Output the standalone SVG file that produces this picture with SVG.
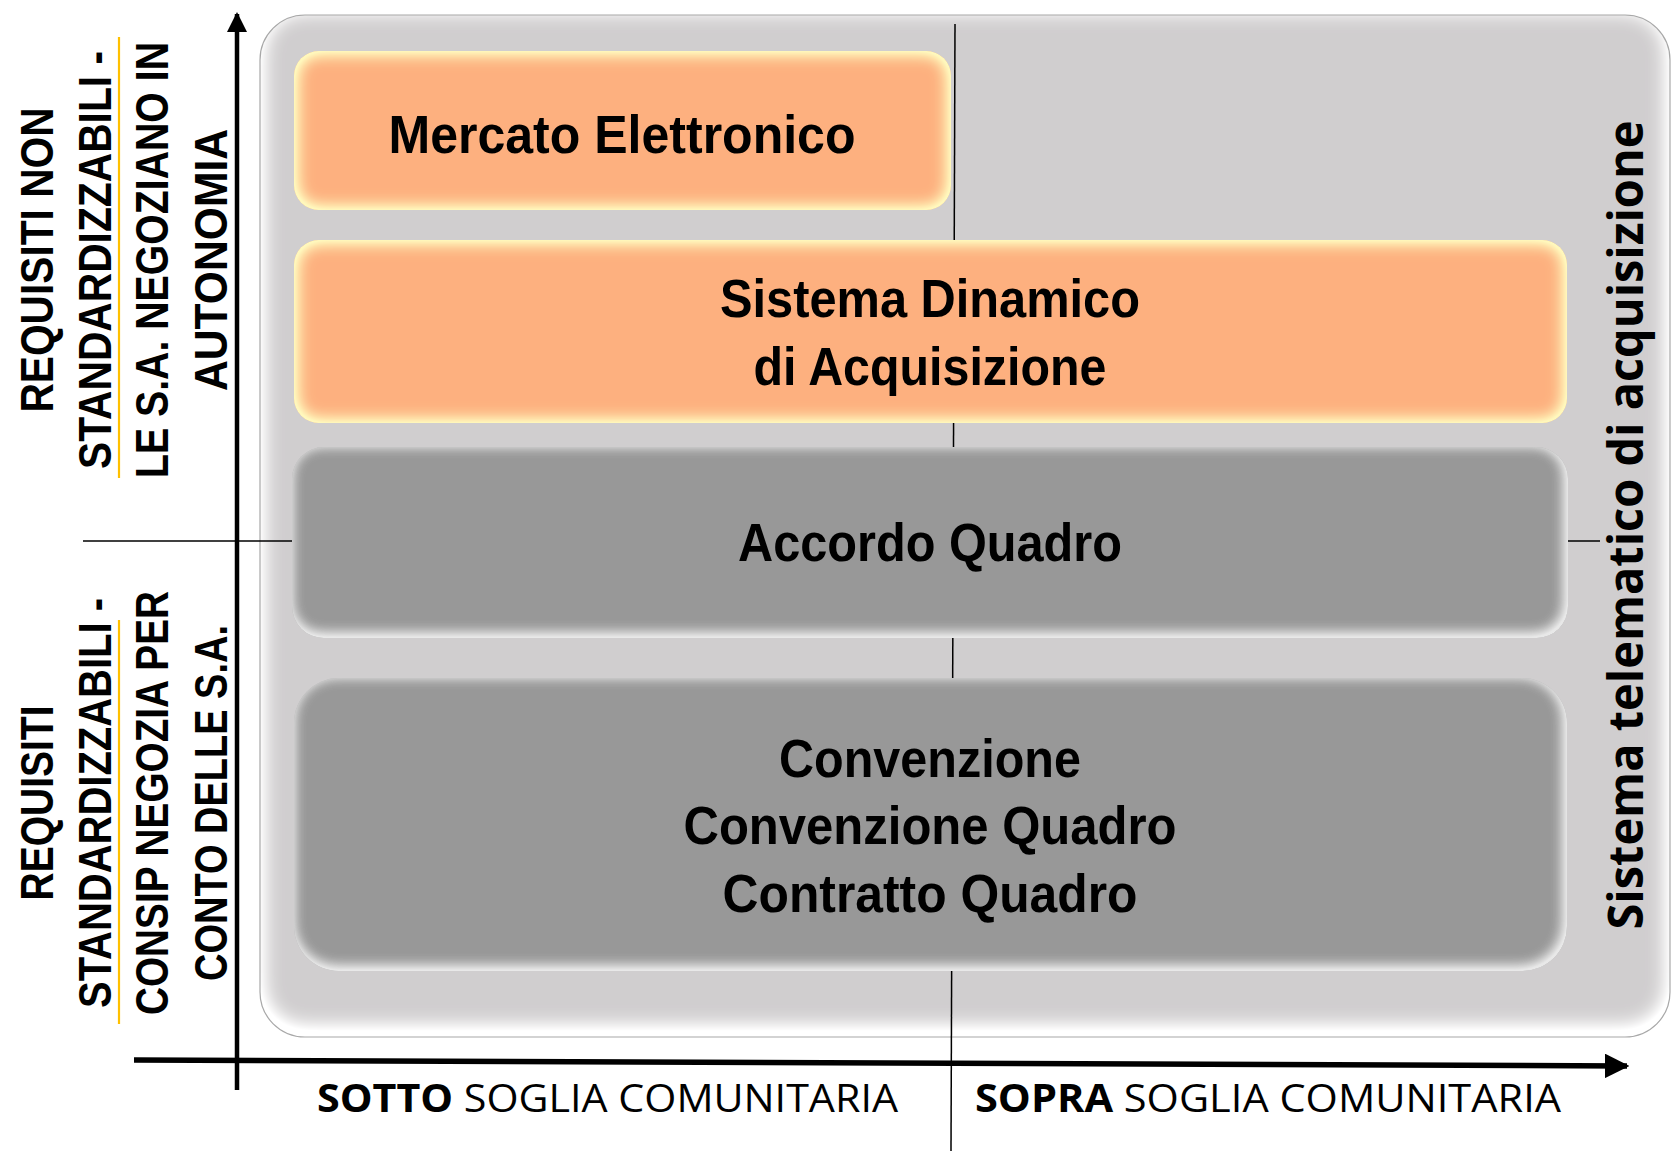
<svg xmlns="http://www.w3.org/2000/svg" width="1676" height="1151" viewBox="0 0 1676 1151">
<style>
.box { font-family: "Liberation Sans", Arial, sans-serif; font-weight: bold; font-size: 54px; fill: #000; text-anchor: middle; }
.side { font-family: "Liberation Sans", Arial, sans-serif; font-weight: bold; font-size: 46px; fill: #000; text-anchor: middle; }
.right { font-family: "Open Sans", "Liberation Sans", sans-serif; font-weight: bold; font-size: 49px; fill: #000; text-anchor: middle; }
.axis { font-family: "Open Sans", "Liberation Sans", sans-serif; font-size: 39px; fill: #000; }
.axis .b { font-weight: bold; }
.orange { fill: #FDB07F; filter: url(#glowOrange); }
.gray { fill: #989898; filter: url(#glowGray); }
.thin { stroke: #000; stroke-width: 1.5; fill: none; }
.yel { stroke: #FFC000; stroke-width: 2.2; fill: none; }
</style>
<defs>
  <filter id="glowOrange" x="-5%" y="-10%" width="110%" height="120%">
    <feGaussianBlur in="SourceAlpha" stdDeviation="9" result="blur"/>
    <feComposite in="SourceAlpha" in2="blur" operator="out" result="edge0"/>
    <feComponentTransfer in="edge0" result="edge"><feFuncA type="linear" slope="2.0"/></feComponentTransfer>
    <feFlood flood-color="#FFF8BC" result="col"/>
    <feComposite in="col" in2="edge" operator="in" result="glow"/>
    <feMerge><feMergeNode in="SourceGraphic"/><feMergeNode in="glow"/></feMerge>
  </filter>
  <filter id="glowGray" x="-5%" y="-10%" width="110%" height="120%">
    <feGaussianBlur in="SourceAlpha" stdDeviation="7" result="blur"/>
    <feOffset in="blur" dx="-2" dy="-3" result="off"/>
    <feComposite in="SourceAlpha" in2="off" operator="out" result="edge0"/>
    <feComponentTransfer in="edge0" result="edge"><feFuncA type="linear" slope="1.6"/></feComponentTransfer>
    <feFlood flood-color="#E8E8E8" result="col"/>
    <feComposite in="col" in2="edge" operator="in" result="glow"/>
    <feMerge><feMergeNode in="SourceGraphic"/><feMergeNode in="glow"/></feMerge>
  </filter>
  <filter id="glowWhite" x="-3%" y="-3%" width="106%" height="106%">
    <feGaussianBlur in="SourceAlpha" stdDeviation="11" result="blur"/>
    <feOffset in="blur" dx="0" dy="-7" result="off"/>
    <feComposite in="SourceAlpha" in2="off" operator="out" result="edge0"/>
    <feComponentTransfer in="edge0" result="edge"><feFuncA type="linear" slope="1.9"/></feComponentTransfer>
    <feFlood flood-color="#FFFFFF" result="col"/>
    <feComposite in="col" in2="edge" operator="in" result="glow"/>
    <feMerge><feMergeNode in="SourceGraphic"/><feMergeNode in="glow"/></feMerge>
  </filter>
  <marker id="arrow" viewBox="0 0 10 10" refX="9" refY="5" markerWidth="4.5" markerHeight="4.5" orient="auto" markerUnits="strokeWidth">
    <path d="M0,0 L10,5 L0,10 Z" fill="#000"/>
  </marker>
</defs>

<rect width="1676" height="1151" fill="#FFFFFF"/>

<g id="container">
  <rect x="260" y="15" width="1410" height="1022" rx="45" ry="45" fill="#D0CECF" filter="url(#glowWhite)"/>
  <rect x="260" y="15" width="1410" height="1022" rx="45" ry="45" fill="none" stroke="#A8A8A8" stroke-width="1.2"/>
</g>

<g id="connectors">
  <line class="thin" x1="955" y1="24" x2="951" y2="1151"/>
  <line class="thin" x1="83" y1="541" x2="1600" y2="541"/>
  <line x1="237" y1="1090" x2="237" y2="14" stroke="#000" stroke-width="4.5" marker-end="url(#arrow)"/>
  <line x1="134" y1="1060" x2="1627" y2="1066" stroke="#000" stroke-width="5.5" marker-end="url(#arrow)"/>
  <line class="yel" x1="119" y1="37" x2="119" y2="478"/>
  <line class="yel" x1="119" y1="620" x2="119" y2="1024"/>
</g>

<g id="mercato">
  <rect class="orange" x="294" y="51" width="657" height="159" rx="25" ry="25"/>
  <text class="box" x="622" y="153" textLength="467" lengthAdjust="spacingAndGlyphs">Mercato Elettronico</text>
</g>

<g id="sistema-dinamico">
  <rect class="orange" x="294" y="240" width="1273" height="183" rx="25" ry="25"/>
  <text class="box" x="930" y="317" textLength="420" lengthAdjust="spacingAndGlyphs">Sistema Dinamico</text>
  <text class="box" x="930" y="385" textLength="353" lengthAdjust="spacingAndGlyphs">di Acquisizione</text>
</g>

<g id="accordo-quadro">
  <rect class="gray" x="292" y="447" width="1276" height="191" rx="32" ry="32"/>
  <text class="box" x="930" y="561" textLength="384" lengthAdjust="spacingAndGlyphs">Accordo Quadro</text>
</g>

<g id="convenzione">
  <rect class="gray" x="294" y="678" width="1273" height="293" rx="45" ry="45"/>
  <text class="box" x="930" y="777" textLength="302" lengthAdjust="spacingAndGlyphs">Convenzione</text>
  <text class="box" x="930" y="844" textLength="493" lengthAdjust="spacingAndGlyphs">Convenzione Quadro</text>
  <text class="box" x="930" y="912" textLength="415" lengthAdjust="spacingAndGlyphs">Contratto Quadro</text>
</g>

<g id="label-sistema-telematico">
  <text class="right" transform="translate(1643,525) rotate(-90)" x="0" y="0" textLength="809" lengthAdjust="spacingAndGlyphs">Sistema telematico di acquisizione</text>
</g>

<g id="label-non-standardizzabili">
  <text class="side" transform="translate(53,260) rotate(-90)" textLength="305" lengthAdjust="spacingAndGlyphs">REQUISITI NON</text>
  <text class="side" transform="translate(111,260) rotate(-90)" textLength="418" lengthAdjust="spacingAndGlyphs">STANDARDIZZABILI -</text>
  <text class="side" transform="translate(168,260) rotate(-90)" textLength="436" lengthAdjust="spacingAndGlyphs">LE S.A. NEGOZIANO IN</text>
  <text class="side" transform="translate(227,260) rotate(-90)" textLength="262" lengthAdjust="spacingAndGlyphs">AUTONOMIA</text>
</g>

<g id="label-standardizzabili">
  <text class="side" transform="translate(53,803) rotate(-90)" textLength="195" lengthAdjust="spacingAndGlyphs">REQUISITI</text>
  <text class="side" transform="translate(111,803) rotate(-90)" textLength="410" lengthAdjust="spacingAndGlyphs">STANDARDIZZABILI -</text>
  <text class="side" transform="translate(168,803) rotate(-90)" textLength="424" lengthAdjust="spacingAndGlyphs">CONSIP NEGOZIA PER</text>
  <text class="side" transform="translate(227,803) rotate(-90)" textLength="356" lengthAdjust="spacingAndGlyphs">CONTO DELLE S.A.</text>
</g>

<g id="label-sotto">
  <text class="axis" x="317" y="1112" textLength="581" lengthAdjust="spacingAndGlyphs"><tspan class="b">SOTTO</tspan> SOGLIA COMUNITARIA</text>
</g>
<g id="label-sopra">
  <text class="axis" x="975" y="1112" textLength="586" lengthAdjust="spacingAndGlyphs"><tspan class="b">SOPRA</tspan> SOGLIA COMUNITARIA</text>
</g>
</svg>
